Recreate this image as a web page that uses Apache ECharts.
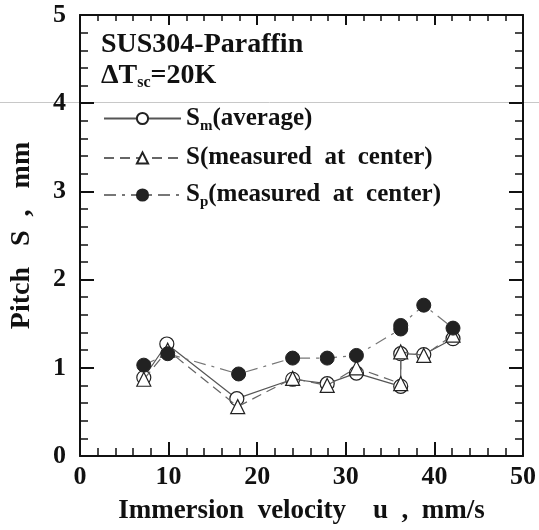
<!DOCTYPE html>
<html>
<head>
<meta charset="utf-8">
<script src="https://cdn.jsdelivr.net/npm/echarts@6/dist/echarts.min.js"></script>
<style>
  html, body { margin: 0; padding: 0; background: #fff; }
  #chart { width: 539px; height: 530px; }
</style>
</head>
<body>
<div id="chart"></div>
<script>
// S_m (average)
var smX = [7.2, 9.8, 17.7, 24.0, 27.9, 31.2, 36.2, 36.2, 38.8, 42.1];
var smY = [0.89, 1.27, 0.65, 0.87, 0.82, 0.94, 0.79, 1.16, 1.15, 1.33];
// S (measured at center)
var sX = [7.2, 9.9, 17.8, 24.0, 27.9, 31.2, 36.2, 36.2, 38.8, 42.1];
var sY = [0.87, 1.2, 0.56, 0.88, 0.80, 1.0, 0.82, 1.18, 1.14, 1.37];
// S_p (measured at center)
var spX = [7.2, 9.9, 17.9, 24.0, 27.9, 31.2, 36.2, 36.2, 38.8, 42.1];
var spY = [1.03, 1.16, 0.93, 1.11, 1.11, 1.14, 1.44, 1.48, 1.71, 1.45];

var xTicks = [0, 10, 20, 30, 40, 50];
var yTicks = [0, 1, 2, 3, 4, 5];

var font = "'Liberation Serif', 'Times New Roman', serif";

function pairs(xs, ys) {
  return xs.map(function (x, i) { return [x, ys[i]]; });
}

var chart = echarts.init(document.getElementById('chart'));

var axisBase = {
  type: 'value',
  axisLine: { show: true, onZero: false, lineStyle: { color: '#111', width: 2 } },
  axisTick: { show: true, inside: true, length: 14, lineStyle: { color: '#111', width: 2 } },
  minorTick: { show: true, splitNumber: 5, length: 8, lineStyle: { color: '#111', width: 1.5 } },
  splitLine: { show: false },
  axisLabel: { show: false }
};

var labelStyle = { fontFamily: font, fontWeight: 'bold', fontSize: 26, color: '#111' };

var option = {
  backgroundColor: '#fff',
  animation: false,
  grid: { left: 76, right: 10, top: 15, bottom: 72 },
  title: {
    left: 101,
    top: 29,
    padding: 0,
    text: 'SUS304-Paraffin\n{d|ΔT}{sub|sc}{d|=20K}',
    textStyle: {
      fontFamily: font, fontWeight: 'bold', fontSize: 28, color: '#111', lineHeight: 31,
      rich: {
        d: { fontFamily: font, fontWeight: 'bold', fontSize: 28, color: '#111', lineHeight: 31 },
        sub: { fontFamily: font, fontWeight: 'bold', fontSize: 16, color: '#111', lineHeight: 10, verticalAlign: 'bottom' }
      }
    }
  },
  legend: {
    orient: 'vertical',
    left: 103,
    top: 106,
    padding: 0,
    itemWidth: 77,
    itemHeight: 14,
    itemGap: 12,
    data: ['Sm', 'S', 'Sp'],
    formatter: function (name) {
      if (name === 'Sm') return '{t|S}{sub|m}{t|(average)}';
      if (name === 'S') return '{t|S(measured  at  center)}';
      return '{t|S}{sub|p}{t|(measured  at  center)}';
    },
    textStyle: {
      fontFamily: font, fontWeight: 'bold', fontSize: 25, color: '#111',
      rich: {
        t: { fontFamily: font, fontWeight: 'bold', fontSize: 25, color: '#111', lineHeight: 30 },
        sub: { fontFamily: font, fontWeight: 'bold', fontSize: 15, color: '#111', lineHeight: 10, verticalAlign: 'bottom' }
      }
    }
  },
  xAxis: [
    Object.assign({}, axisBase, {
      min: xTicks[0], max: xTicks[xTicks.length - 1], interval: 10,
      position: 'bottom',
      name: 'Immersion  velocity    u  ,  mm/s',
      nameLocation: 'middle',
      nameGap: 42,
      nameTextStyle: { fontFamily: font, fontWeight: 'bold', fontSize: 27, color: '#111' },
      axisLabel: Object.assign({ show: true, margin: 8 }, labelStyle)
    }),
    Object.assign({}, axisBase, {
      min: xTicks[0], max: xTicks[xTicks.length - 1], interval: 10,
      position: 'top',
      axisTick: { show: true, inside: true, length: 10, lineStyle: { color: '#111', width: 2 } },
      minorTick: { show: true, splitNumber: 5, length: 6, lineStyle: { color: '#111', width: 1.5 } }
    })
  ],
  yAxis: [
    Object.assign({}, axisBase, {
      min: yTicks[0], max: yTicks[yTicks.length - 1], interval: 1,
      position: 'left',
      name: 'Pitch   S  ,   mm',
      nameLocation: 'middle',
      nameGap: 44,
      nameTextStyle: { fontFamily: font, fontWeight: 'bold', fontSize: 28, color: '#111' },
      axisLabel: Object.assign({ show: true, margin: 14 }, labelStyle)
    }),
    Object.assign({}, axisBase, {
      min: yTicks[0], max: yTicks[yTicks.length - 1], interval: 1,
      position: 'right'
    })
  ],
  graphic: [
    {
      type: 'line',
      shape: { x1: 0, y1: 102.5, x2: 539, y2: 102.5 },
      style: { stroke: '#c8c8c8', lineWidth: 1 },
      z: -1
    }
  ],
  series: [
    {
      name: 'Sm',
      type: 'line',
      data: pairs(smX, smY),
      symbol: 'circle',
      symbolSize: 14,
      lineStyle: { color: '#555', width: 1.2, type: 'solid' },
      itemStyle: { color: '#fff', borderColor: '#222', borderWidth: 1.2 },
      z: 2
    },
    {
      name: 'S',
      type: 'line',
      data: pairs(sX, sY),
      symbol: 'triangle',
      symbolSize: 14,
      lineStyle: { color: '#666', width: 1.2, type: [10, 6] },
      itemStyle: { color: '#fff', borderColor: '#222', borderWidth: 1.2 },
      z: 3
    },
    {
      name: 'Sp',
      type: 'line',
      data: pairs(spX, spY),
      symbol: 'circle',
      symbolSize: 14,
      lineStyle: { color: '#777', width: 1.2, type: [12, 6, 3, 6] },
      itemStyle: { color: '#222', borderColor: '#222', borderWidth: 1 },
      z: 4
    }
  ]
};

chart.setOption(option);
</script>
</body>
</html>
